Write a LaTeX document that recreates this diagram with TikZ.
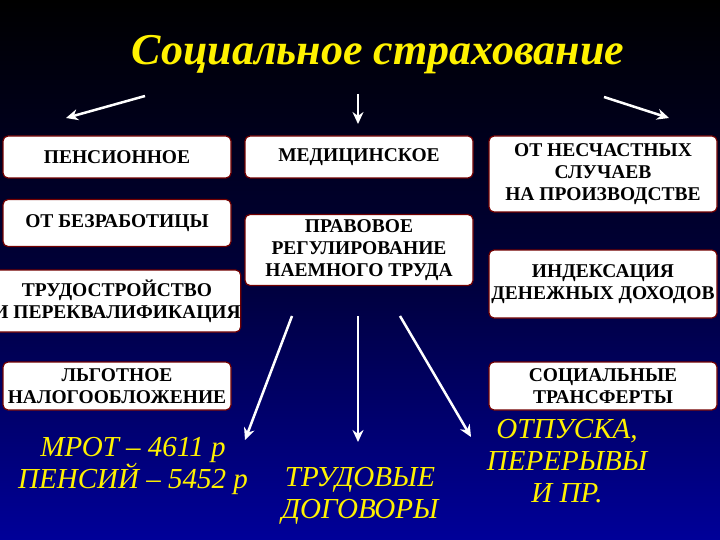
\documentclass[tikz,border=0pt]{standalone}
\usepackage{fontspec}
\setmainfont{Liberation Serif}
\newfontfamily\ser{Liberation Serif}
\usetikzlibrary{arrows.meta}
\begin{document}
\begin{tikzpicture}[x=1pt,y=-1pt,
  box/.style={draw=red!45!black,line width=1.2pt,fill=white,rounded corners=5pt,align=center,font=\ser\bfseries\fontsize{19.5}{22}\selectfont,inner sep=0pt},
  arr/.style={draw=white,line width=2.5pt,-{Stealth[length=12pt,width=11pt]}},
  ytxt/.style={text=yellow,font=\ser\itshape\fontsize{29}{32}\selectfont,align=center}]
\shade[top color=black,bottom color=blue!60!black,middle color=blue!22!black] (0,0) rectangle (720,540);
\useasboundingbox (0,0) rectangle (720,540);
\node[text=yellow,font=\ser\bfseries\itshape\fontsize{44}{48}\selectfont] (title) at (378,55) {Социальное страхование};
\node[box,minimum width=228pt,minimum height=42pt] (p) at (117,157) {ПЕНСИОННОЕ};
\node[box,minimum width=228pt,minimum height=42pt] (m) at (359,157) {МЕДИЦИНСКОЕ};
\node[box,minimum width=228pt,minimum height=76pt] (n) at (603,174) {ОТ НЕСЧАСТНЫХ\\СЛУЧАЕВ\\НА ПРОИЗВОДСТВЕ};
\node[box,minimum width=228pt,minimum height=47pt] (b) at (117,223) {ОТ БЕЗРАБОТИЦЫ};
\node[box,minimum width=228pt,minimum height=71pt] (r) at (359,250) {ПРАВОВОЕ\\РЕГУЛИРОВАНИЕ\\НАЕМНОГО ТРУДА};
\node[box,minimum width=228pt,minimum height=62pt] (t) at (117,301) {ТРУДОСТРОЙСТВО\\И ПЕРЕКВАЛИФИКАЦИЯ};
\node[box,minimum width=228pt,minimum height=68pt] (i) at (603,284) {ИНДЕКСАЦИЯ\\ДЕНЕЖНЫХ ДОХОДОВ};
\node[box,minimum width=228pt,minimum height=48pt] (l) at (117,386) {ЛЬГОТНОЕ\\НАЛОГООБЛОЖЕНИЕ};
\node[box,minimum width=228pt,minimum height=48pt] (s) at (603,386) {СОЦИАЛЬНЫЕ\\ТРАНСФЕРТЫ};
\coordinate (a1) at (145,96); \coordinate (a1e) at (66,118);
\coordinate (a2) at (358,94); \coordinate (a2e) at (358,124);
\coordinate (a3) at (604,97); \coordinate (a3e) at (669,118);
\coordinate (b1) at (292,316); \coordinate (b2) at (358,316); \coordinate (b3) at (400,316);
\draw[arr] (a1)--(a1e);
\draw[arr] (a2)--(a2e);
\draw[arr] (a3)--(a3e);
\node[ytxt] (mrot) at (133,466) {МРОТ – 4611 р\\ПЕНСИЙ – 5452 р};
\node[ytxt] (td) at (360,496) {ТРУДОВЫЕ\\ДОГОВОРЫ};
\node[ytxt] (ot) at (567,461) {ОТПУСКА,\\ПЕРЕРЫВЫ\\И ПР.};
\draw[arr] (b1)--(245,440);
\draw[arr] (b2)--(358,442);
\draw[arr] (b3)--(471,437);
\end{tikzpicture}
\end{document}
